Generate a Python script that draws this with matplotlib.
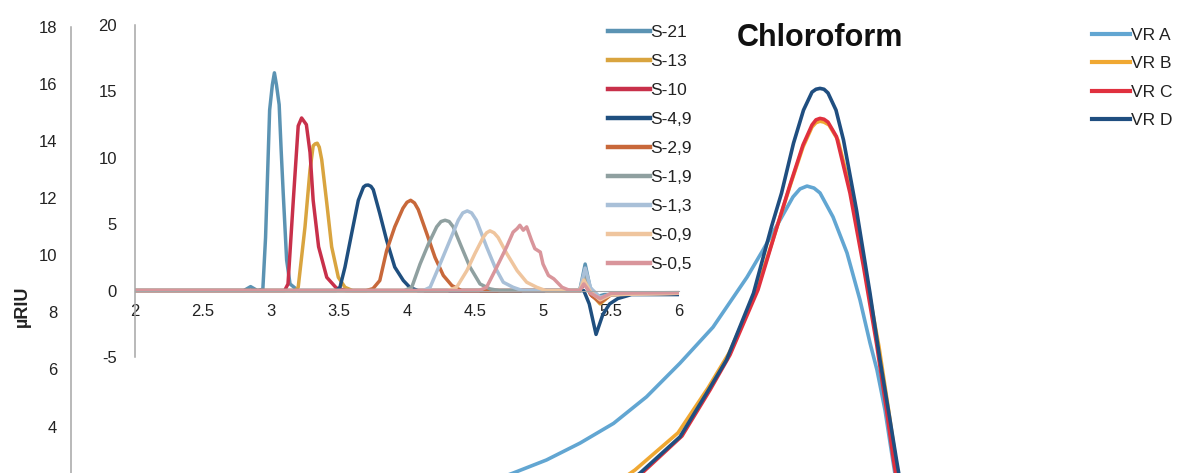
import matplotlib
matplotlib.use("Agg")
import matplotlib.pyplot as plt
from matplotlib.lines import Line2D

plt.rcParams['font.family'] = ['Liberation Sans', 'DejaVu Sans']
plt.rcParams['axes.unicode_minus'] = False

# ---------------- main chart (VR series) ----------------
vr_names = ["VR A", "VR B", "VR C", "VR D"]
vr_colors = ["#62a6d2", "#f0a832", "#e0303e", "#1f4e80"]

vrA_x = [7.38, 8.84, 9.51, 10.18, 10.85, 11.51, 12.18, 12.84, 13.52, 13.84, 14.18, 14.44, 14.58, 14.72, 14.86, 14.98, 15.24, 15.52, 15.78, 15.98, 16.12, 16.28, 16.42, 16.58]
vrA_y = [1.43, 2.37, 2.83, 3.42, 4.11, 5.04, 6.22, 7.48, 9.23, 10.18, 11.23, 12.04, 12.32, 12.42, 12.35, 12.18, 11.34, 10.08, 8.43, 6.93, 5.98, 4.58, 3.00, 1.25]

vrB_x = [10.28, 11.28, 12.14, 12.74, 13.16, 13.72, 14.10, 14.38, 14.64, 14.82, 14.90, 14.98, 15.06, 15.16, 15.34, 15.62, 15.88, 16.16, 16.36, 16.50, 16.68]
vrB_y = [1.25, 2.48, 3.78, 5.35, 6.57, 8.79, 10.88, 12.42, 13.79, 14.49, 14.64, 14.69, 14.66, 14.56, 14.03, 12.07, 9.48, 6.79, 4.48, 2.76, 0.90]

vrC_x = [10.42, 11.42, 12.22, 12.78, 13.18, 13.74, 14.10, 14.38, 14.64, 14.82, 14.90, 14.98, 15.06, 15.14, 15.31, 15.58, 15.85, 16.11, 16.31, 16.45, 16.62]
vrC_y = [1.01, 2.37, 3.67, 5.28, 6.51, 8.79, 10.88, 12.46, 13.86, 14.56, 14.74, 14.79, 14.76, 14.66, 14.15, 12.17, 9.60, 6.91, 4.58, 2.83, 1.01]

vrD_x = [10.38, 11.38, 12.18, 12.71, 13.11, 13.65, 14.01, 14.21, 14.45, 14.65, 14.82, 14.90, 14.98, 15.06, 15.14, 15.30, 15.45, 15.71, 15.98, 16.18, 16.38, 16.51, 16.68]
vrD_y = [1.01, 2.37, 3.64, 5.16, 6.33, 8.67, 11.00, 12.17, 13.92, 15.08, 15.71, 15.81, 15.84, 15.81, 15.68, 15.08, 14.03, 11.58, 8.67, 6.33, 4.23, 2.83, 1.08]

main_yticks = [4, 6, 8, 10, 12, 14, 16, 18]
main_ylabel = "µRIU"
title = "Chloroform"

# ---------------- inset chart (S series) ----------------
s_names = ["S-21", "S-13", "S-10", "S-4,9", "S-2,9", "S-1,9", "S-1,3", "S-0,9", "S-0,5"]
s_colors = ["#5b93b3", "#d9a43f", "#c8304a", "#1f4f7f", "#c8683a", "#8fa0a0", "#a9c0d8", "#efc59e", "#d9959b"]

s21_x = [2.0, 2.80, 2.85, 2.90, 2.94, 2.96, 2.99, 3.01, 3.025, 3.04, 3.06, 3.075, 3.09, 3.115, 3.14, 3.20, 5.27, 5.31, 5.345, 5.38, 5.45, 6.0]
s21_y = [0.0, 0.0, 0.3, 0.0, 0.1, 4.0, 13.6, 15.5, 16.4, 15.5, 14.0, 10.5, 7.3, 2.3, 0.5, 0.0, 0.0, 2.0, 0.3, -0.5, -0.3, -0.2]

s13_x = [2.0, 3.18, 3.20, 3.25, 3.287, 3.31, 3.325, 3.34, 3.355, 3.373, 3.41, 3.446, 3.495, 3.544, 3.60, 5.27, 5.30, 5.35, 5.42, 5.50, 6.0]
s13_y = [0.0, 0.0, 0.25, 4.8, 9.1, 10.9, 11.05, 11.1, 10.8, 9.85, 6.6, 3.3, 1.0, 0.25, 0.0, 0.0, 0.9, -0.2, -1.0, -0.3, -0.2]

s10_x = [2.0, 3.10, 3.125, 3.164, 3.20, 3.225, 3.26, 3.287, 3.31, 3.35, 3.41, 3.48, 3.55, 5.27, 5.31, 5.36, 5.42, 5.50, 6.0]
s10_y = [0.0, 0.0, 0.5, 6.8, 12.4, 13.0, 12.5, 10.4, 6.8, 3.3, 1.0, 0.2, 0.0, 0.0, 0.6, -0.4, -0.8, -0.3, -0.2]

s49_x = [2.0, 3.48, 3.507, 3.544, 3.593, 3.642, 3.68, 3.697, 3.715, 3.735, 3.752, 3.80, 3.85, 3.91, 3.973, 4.02, 4.08, 5.30, 5.34, 5.39, 5.44, 5.49, 5.55, 5.65, 6.0]
s49_y = [0.0, 0.0, 0.25, 1.77, 4.3, 6.8, 7.8, 7.93, 7.95, 7.85, 7.6, 5.8, 3.8, 1.77, 0.76, 0.25, 0.0, 0.0, -1.0, -3.3, -1.8, -1.0, -0.6, -0.3, -0.3]

s29_x = [2.0, 3.70, 3.75, 3.80, 3.85, 3.91, 3.97, 4.0, 4.027, 4.055, 4.083, 4.145, 4.206, 4.267, 4.33, 4.40, 5.27, 5.30, 5.35, 5.42, 5.50, 6.0]
s29_y = [0.0, 0.0, 0.15, 0.76, 3.0, 4.8, 6.2, 6.65, 6.8, 6.6, 6.1, 4.3, 2.5, 1.14, 0.38, 0.0, 0.0, 0.7, -0.3, -0.9, -0.3, -0.2]

s19_x = [2.0, 3.98, 4.035, 4.096, 4.157, 4.218, 4.25, 4.28, 4.31, 4.34, 4.40, 4.463, 4.537, 4.61, 4.68, 5.27, 5.31, 5.35, 5.42, 5.50, 6.0]
s19_y = [0.0, 0.0, 0.25, 2.0, 3.5, 4.8, 5.2, 5.3, 5.2, 4.8, 3.3, 1.77, 0.5, 0.13, 0.0, 0.0, 1.4, 0.0, -0.6, -0.3, -0.2]

s13b_x = [2.0, 4.12, 4.17, 4.243, 4.304, 4.377, 4.41, 4.443, 4.475, 4.51, 4.585, 4.647, 4.708, 4.78, 4.85, 5.27, 5.31, 5.35, 5.42, 5.50, 6.0]
s13b_y = [0.0, 0.0, 0.25, 2.0, 3.5, 5.3, 5.85, 6.0, 5.85, 5.3, 3.3, 1.77, 0.63, 0.25, 0.0, 0.0, 1.7, 0.2, -0.5, -0.3, -0.2]

s09_x = [2.0, 4.30, 4.365, 4.44, 4.50, 4.56, 4.585, 4.61, 4.64, 4.67, 4.733, 4.81, 4.88, 4.954, 5.02, 5.27, 5.30, 5.35, 5.42, 5.50, 6.0]
s09_y = [0.0, 0.0, 0.25, 1.5, 2.8, 4.0, 4.35, 4.5, 4.35, 4.0, 2.8, 1.5, 0.63, 0.25, 0.0, 0.0, 0.8, -0.1, -0.7, -0.3, -0.2]

s05_x = [2.0, 4.53, 4.585, 4.66, 4.733, 4.78, 4.81, 4.83, 4.855, 4.88, 4.915, 4.94, 4.98, 5.00, 5.04, 5.08, 5.14, 5.20, 5.27, 5.30, 5.35, 5.42, 5.50, 6.0]
s05_y = [0.0, 0.0, 0.25, 1.77, 3.3, 4.4, 4.67, 4.92, 4.55, 4.8, 3.8, 3.16, 2.9, 2.0, 1.14, 0.88, 0.25, 0.0, 0.0, 0.5, -0.2, -0.6, -0.2, -0.15]

s_x = [s21_x, s13_x, s10_x, s49_x, s29_x, s19_x, s13b_x, s09_x, s05_x]
s_y = [s21_y, s13_y, s10_y, s49_y, s29_y, s19_y, s13b_y, s09_y, s05_y]

inset_xticks = [2, 2.5, 3, 3.5, 4, 4.5, 5, 5.5, 6]
inset_xticklabels = ["2", "2.5", "3", "3.5", "4", "4.5", "5", "5.5", "6"]
inset_yticks = [-5, 0, 5, 10, 15, 20]

# ---------------- figure ----------------
W, H = 1179, 473
fig = plt.figure(figsize=(W / 100, H / 100), dpi=100)

def fx(px):
    return px / W

def fy(py):
    return 1 - py / H

spine_col = "#a6a6a6"
text_col = "#222222"
tick_fs = 12
leg_fs = 12.5

# main axes: left spine at px 71, y=18 at py 26.7, y=0 at py 540.8 (below the visible area)
ax = fig.add_axes([fx(71), fy(540.8), fx(1071) - fx(71), fy(26.7) - fy(540.8)])
ax.set_xlim(0, 20)
ax.set_ylim(0, 18)
for name, col, xs, ys in zip(vr_names, vr_colors, [vrA_x, vrB_x, vrC_x, vrD_x], [vrA_y, vrB_y, vrC_y, vrD_y]):
    ax.plot(xs, ys, color=col, lw=2.6, label=name, solid_joinstyle="round")
ax.set_yticks(main_yticks)
ax.set_yticklabels([str(v) for v in main_yticks])
ax.tick_params(axis="y", length=0, pad=10, labelsize=tick_fs, labelcolor=text_col)
ax.set_xticks([])
for s in ["top", "right", "bottom"]:
    ax.spines[s].set_visible(False)
ax.spines["left"].set_color(spine_col)
ax.spines["left"].set_linewidth(1.1)
ax.patch.set_alpha(0)
fig.text(fx(22), fy(306), main_ylabel, rotation=90, ha="center", va="center",
         fontsize=13, fontweight="bold", color=text_col)
fig.text(fx(737), fy(38), title, ha="left", va="center", fontsize=22,
         fontweight="bold", color="#111111")

vr_handles = [Line2D([], [], color=c, lw=3) for c in vr_colors]
fig.legend(vr_handles, vr_names, loc="upper left",
           bbox_to_anchor=(fx(1092), fy(27.5)), frameon=False,
           handlelength=2.2, handletextpad=0.05, labelspacing=0.77,
           borderpad=0, borderaxespad=0, fontsize=leg_fs, labelcolor=text_col)

# inset axes: x 2..6 at px 135..679, y -5..20 at py 357..25
ins = fig.add_axes([fx(135), fy(357), fx(679) - fx(135), fy(25) - fy(357)])
ins.set_xlim(2, 6)
ins.set_ylim(-5, 20)
ins.patch.set_alpha(0)
for name, col, xs, ys in zip(s_names, s_colors, s_x, s_y):
    ins.plot(xs, ys, color=col, lw=2.5, label=name, solid_joinstyle="round")
for s in ["top", "right"]:
    ins.spines[s].set_visible(False)
ins.spines["bottom"].set_position(("data", 0))
ins.spines["bottom"].set_color(spine_col)
ins.spines["left"].set_color(spine_col)
ins.spines["left"].set_linewidth(1.1)
ins.set_xticks(inset_xticks)
ins.set_xticklabels(inset_xticklabels)
ins.set_yticks(inset_yticks)
ins.set_yticklabels([str(v) for v in inset_yticks])
ins.tick_params(axis="both", length=0, labelsize=tick_fs, labelcolor=text_col)
ins.tick_params(axis="y", pad=13)
ins.tick_params(axis="x", pad=10)

s_handles = [Line2D([], [], color=c, lw=3.2) for c in s_colors]
fig.legend(s_handles, s_names, loc="upper left",
           bbox_to_anchor=(fx(608), fy(25)), frameon=False,
           handlelength=2.4, handletextpad=0.05, labelspacing=0.80,
           borderpad=0, borderaxespad=0, fontsize=leg_fs, labelcolor=text_col)

fig.savefig("out.png", dpi=100)
